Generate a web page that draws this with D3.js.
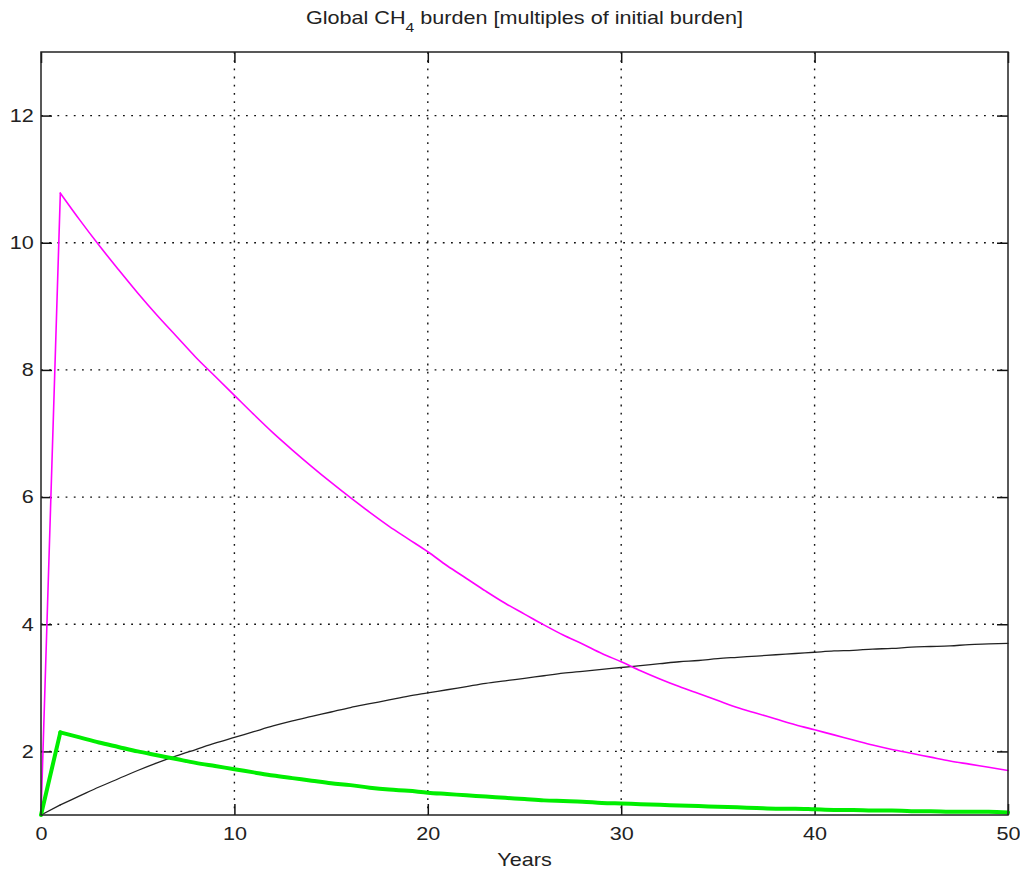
<!DOCTYPE html>
<html>
<head>
<meta charset="utf-8">
<script src="https://cdn.jsdelivr.net/npm/d3@7"></script>
<style>
  body { margin: 0; background: #fff; }
  text { font-family: "Liberation Sans", Arial, sans-serif; fill: #222; }
</style>
</head>
<body>
<div id="chart"></div>
<script>
//// DATA (one value per year)

const YEARS = d3.range(0, 51);

const MAGENTA_VALUES = [
  1.00, 10.78, 10.36, 9.96, 9.58, 9.21, 8.86, 8.53, 8.20, 7.90,
  7.60, 7.30, 7.01, 6.74, 6.48, 6.23, 5.99, 5.76, 5.54, 5.34,
  5.14, 4.92, 4.72, 4.52, 4.33, 4.16, 3.99, 3.83, 3.69, 3.54,
  3.41, 3.27, 3.14, 3.02, 2.91, 2.80, 2.69, 2.60, 2.51, 2.42,
  2.34, 2.26, 2.18, 2.10, 2.03, 1.97, 1.91, 1.85, 1.80, 1.75,
  1.70
];

const BLACK_VALUES = [
  1.00, 1.16, 1.30, 1.44, 1.57, 1.70, 1.82, 1.93, 2.03, 2.13,
  2.22, 2.31, 2.40, 2.48, 2.55, 2.62, 2.69, 2.75, 2.81, 2.87,
  2.92, 2.97, 3.02, 3.07, 3.11, 3.15, 3.19, 3.23, 3.26, 3.29,
  3.32, 3.35, 3.38, 3.41, 3.43, 3.46, 3.48, 3.50, 3.52, 3.54,
  3.56, 3.58, 3.59, 3.61, 3.62, 3.64, 3.65, 3.66, 3.68, 3.69,
  3.70
];

const GREEN_VALUES = [
  1.00, 2.30, 2.22, 2.14, 2.07, 2.00, 1.94, 1.88, 1.82, 1.77,
  1.72, 1.67, 1.62, 1.58, 1.54, 1.50, 1.47, 1.43, 1.40, 1.38,
  1.35, 1.33, 1.31, 1.29, 1.27, 1.25, 1.23, 1.22, 1.21, 1.19,
  1.18, 1.17, 1.16, 1.15, 1.14, 1.13, 1.12, 1.11, 1.10, 1.10,
  1.09, 1.08, 1.08, 1.07, 1.07, 1.06, 1.06, 1.05, 1.05, 1.05,
  1.04
];

const X_TICKS = [0, 10, 20, 30, 40, 50];
const Y_TICKS = [2, 4, 6, 8, 10, 12];

//////////////
const WIDTH = 1020, HEIGHT = 871;
const margin = { top: 52, right: 12, bottom: 56, left: 41 };
const TICK = 11;
const STRETCH = "scale(1.2,1)";   // the source figure is stretched sideways

const svg = d3.select("#chart").append("svg")
  .attr("width", WIDTH)
  .attr("height", HEIGHT);

const innerW = WIDTH - margin.left - margin.right;
const innerH = HEIGHT - margin.top - margin.bottom;

const x = d3.scaleLinear().domain([0, 50]).range([0, innerW]);
const y = d3.scaleLinear().domain([1, 13]).range([innerH, 0]);

const g = svg.append("g").attr("transform", `translate(${margin.left},${margin.top})`);

// dotted grid
g.append("g").selectAll("line")
  .data(X_TICKS.slice(1, -1))
  .join("line")
  .attr("x1", d => x(d)).attr("x2", d => x(d))
  .attr("y1", 0).attr("y2", innerH)
  .attr("stroke", "#111").attr("stroke-width", 1.4)
  .attr("stroke-dasharray", "1.8,6.4");

g.append("g").selectAll("line")
  .data(Y_TICKS)
  .join("line")
  .attr("x1", 0).attr("x2", innerW)
  .attr("y1", d => y(d)).attr("y2", d => y(d))
  .attr("stroke", "#111").attr("stroke-width", 1.4)
  .attr("stroke-dasharray", "1.8,6.4");

// axes, ticks pointing inward on all four sides
const styleAxis = sel => {
  sel.select(".domain").remove();
  sel.selectAll(".tick line").attr("stroke", "#111").attr("stroke-width", 1.5);
  sel.selectAll("text").attr("font-size", 18).attr("fill", "#222")
    .attr("font-family", "'Liberation Sans', Arial, sans-serif")
    .attr("transform", STRETCH);
};

g.append("g")
  .attr("transform", `translate(0,${innerH})`)
  .call(d3.axisBottom(x).tickValues(X_TICKS).tickSizeInner(-TICK).tickSizeOuter(0).tickPadding(12))
  .call(styleAxis);

g.append("g")
  .call(d3.axisTop(x).tickValues(X_TICKS).tickSizeInner(-TICK).tickSizeOuter(0).tickFormat(""))
  .call(styleAxis);

g.append("g")
  .call(d3.axisLeft(y).tickValues(Y_TICKS).tickSizeInner(-TICK).tickSizeOuter(0).tickPadding(6))
  .call(styleAxis);

g.append("g")
  .attr("transform", `translate(${innerW},0)`)
  .call(d3.axisRight(y).tickValues(Y_TICKS).tickSizeInner(-TICK).tickSizeOuter(0).tickFormat(""))
  .call(styleAxis);

// series: straight jump over the first year, smooth decay/growth after it
const lineStraight = d3.line()
  .x(d => x(d[0]))
  .y(d => y(d[1]));
const lineSmooth = d3.line()
  .x(d => x(d[0]))
  .y(d => y(d[1]))
  .curve(d3.curveMonotoneX);

const drawSeries = (values, color, width) => {
  const pts = YEARS.map((yr, i) => [yr, values[i]]);
  const grp = g.append("g")
    .attr("fill", "none")
    .attr("stroke", color)
    .attr("stroke-width", width)
    .attr("stroke-linejoin", "round")
    .attr("stroke-linecap", "round");
  grp.append("path").attr("d", lineStraight(pts.slice(0, 2)));
  grp.append("path").attr("d", lineSmooth(pts.slice(1)));
};

drawSeries(BLACK_VALUES, "#222", 1.3);
drawSeries(MAGENTA_VALUES, "#ff00ff", 1.6);
drawSeries(GREEN_VALUES, "#00ee00", 4);

// box
g.append("rect")
  .attr("width", innerW).attr("height", innerH)
  .attr("fill", "none").attr("stroke", "#222").attr("stroke-width", 1.5);

// title with subscript
const title = svg.append("text")
  .attr("transform", `translate(${margin.left + innerW / 2},24) ${STRETCH}`)
  .attr("text-anchor", "middle")
  .attr("font-size", 18);
title.append("tspan").text("Global CH");
title.append("tspan").attr("font-size", 13).attr("dy", 8).text("4");
title.append("tspan").attr("dy", -8).text(" burden [multiples of initial burden]");

svg.append("text")
  .attr("transform", `translate(${margin.left + innerW / 2},866) ${STRETCH}`)
  .attr("text-anchor", "middle")
  .attr("font-size", 18)
  .text("Years");
</script>
</body>
</html>
